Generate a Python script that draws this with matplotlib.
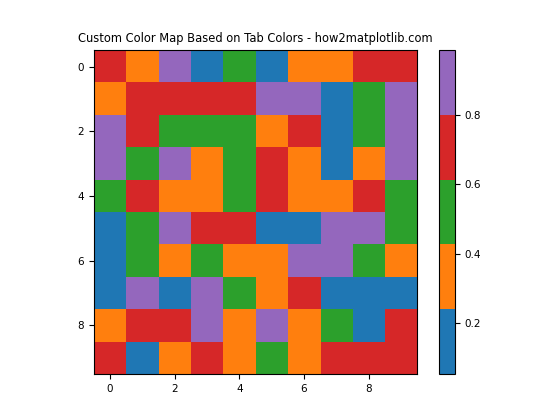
import matplotlib
matplotlib.use("Agg")
import matplotlib.pyplot as plt
from matplotlib.colors import ListedColormap
import numpy as np

plt.rcParams['xtick.labelsize'] = 7.5
plt.rcParams['ytick.labelsize'] = 7.5

# Colours taken from the tab palette
tab_colors = ['#1f77b4', '#ff7f0e', '#2ca02c', '#d62728', '#9467bd']

# Values (bin chosen by colour)
values = [
    [0.71, 0.33, 0.90, 0.15, 0.52, 0.12, 0.35, 0.31, 0.70, 0.74],
    [0.30, 0.68, 0.72, 0.70, 0.66, 0.88, 0.91, 0.17, 0.55, 0.93],
    [0.89, 0.73, 0.51, 0.49, 0.53, 0.34, 0.69, 0.14, 0.50, 0.95],
    [0.92, 0.56, 0.87, 0.32, 0.48, 0.71, 0.36, 0.10, 0.29, 0.90],
    [0.54, 0.67, 0.33, 0.37, 0.52, 0.75, 0.30, 0.34, 0.72, 0.47],
    [0.052, 0.50, 0.89, 0.69, 0.73, 0.18, 0.13, 0.91, 0.86, 0.55],
    [0.16, 0.53, 0.31, 0.49, 0.35, 0.32, 0.94, 0.988, 0.51, 0.28],
    [0.11, 0.90, 0.19, 0.87, 0.52, 0.33, 0.70, 0.15, 0.09, 0.17],
    [0.36, 0.71, 0.68, 0.92, 0.30, 0.88, 0.34, 0.53, 0.14, 0.73],
    [0.72, 0.13, 0.32, 0.70, 0.37, 0.50, 0.31, 0.69, 0.74, 0.71],
]

cmap = ListedColormap(tab_colors)

fig, ax = plt.subplots(figsize=(5.6, 4.2), dpi=100)
im = ax.imshow(np.array(values), cmap=cmap)
fig.colorbar(im, ax=ax)
ax.set_title('Custom Color Map Based on Tab Colors - how2matplotlib.com', fontsize=8.3)
plt.savefig('out.png', dpi=100)
